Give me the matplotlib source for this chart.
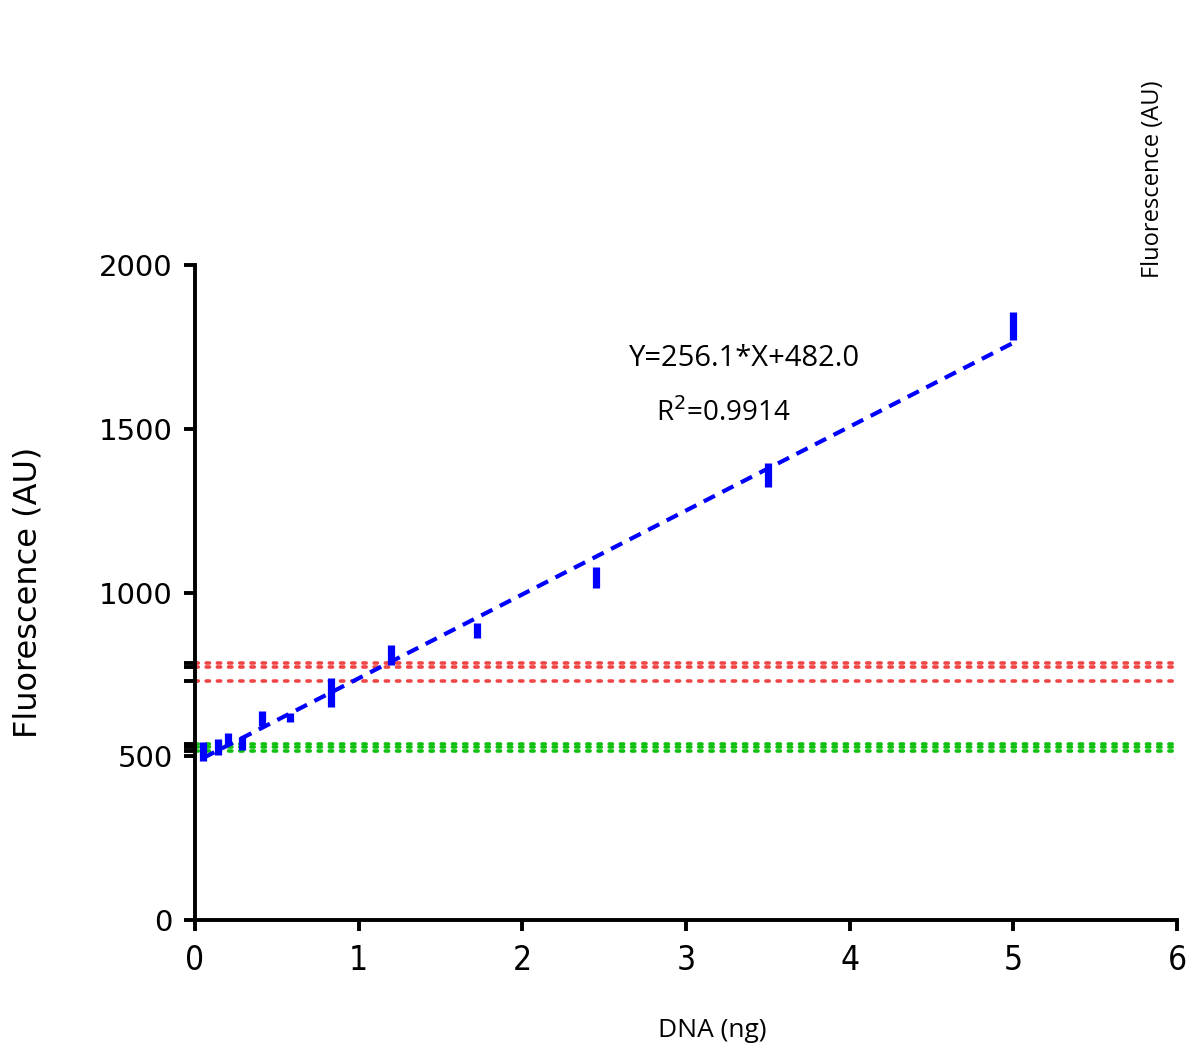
import numpy as np
import matplotlib
matplotlib.use("Agg")
import matplotlib.pyplot as plt

# DNA standard curve: mean fluorescence with error bars
dna_ng = [0.05, 0.14, 0.2, 0.29, 0.41, 0.58, 0.83, 1.2, 1.72, 2.45, 3.5, 5.0]
fluo_mean = [514, 528, 552, 539, 615, 618, 695, 810, 884, 1046, 1359, 1814]
fluo_err = [29, 25, 18, 20, 23, 14, 45, 30, 23, 32, 37, 43]

# linear fit reported on the plot
slope = 256.1
intercept = 482.0
r_squared = 0.9914

# threshold levels (dotted)
red_levels = [784, 772, 730]
green_levels = [537, 527, 515]

y_ticks = [0, 500, 1000, 1500, 2000]
x_ticks = [0, 1, 2, 3, 4, 5, 6]

plain = ["Open Sans", "DejaVu Sans"]

fig = plt.figure(figsize=(11.89, 10.5), dpi=100)
ax = fig.add_axes([0.164, 0.1238, 0.8259, 0.6238])

for lv in red_levels:
    ax.plot([0, 6], [lv, lv], color="#f04545", lw=2.6,
            dashes=(0.9, 2.2), dash_capstyle="round", zorder=2)
for lv in green_levels:
    ax.plot([0, 6], [lv, lv], color="#10c010", lw=2.6,
            dashes=(0.9, 2.2), dash_capstyle="round", zorder=2)

fit_x = np.array([dna_ng[0], dna_ng[-1]])
ax.plot(fit_x, slope * fit_x + intercept, color="#0000ff", lw=3.0,
        dashes=(3.0, 2.0), zorder=3)

ax.errorbar(dna_ng, fluo_mean, yerr=fluo_err, fmt="none",
            ecolor="#0000ff", elinewidth=5.2, capsize=0, zorder=4)

ax.set_xlim(0, 6)
ax.set_ylim(0, 2000)
ax.spines["top"].set_visible(False)
ax.spines["right"].set_visible(False)
ax.spines["left"].set_linewidth(2.8)
ax.spines["bottom"].set_linewidth(2.8)

ax.set_xticks(x_ticks)
ax.set_xticklabels([str(t) for t in x_ticks], family="DejaVu Sans",
                   fontstretch="condensed", fontsize=24)
ax.set_yticks(y_ticks)
ax.set_yticklabels([str(t) for t in y_ticks], family="DejaVu Sans", fontsize=21)
ax.set_yticks(red_levels + green_levels, minor=True)
ax.tick_params(axis="both", which="both", direction="out", length=8, width=2.8)
ax.tick_params(axis="x", pad=9)
ax.tick_params(axis="y", pad=8)

ax.set_ylabel("Fluorescence (AU)", family="DejaVu Sans", fontsize=23, labelpad=40)

ax.text(3.36, 1715, f"Y={slope:.1f}*X+{intercept:.1f}", family=plain,
        fontsize=21, ha="center", va="center")
ax.text(3.23, 1548, f"R$^2$={r_squared:.4f}", family=plain,
        fontsize=20, ha="center", va="center")

fig.text(0.599, 0.019, "DNA (ng)", family=plain, fontsize=19,
         ha="center", va="center")
fig.text(0.970, 0.829, "Fluorescence (AU)", family=plain, fontsize=17,
         rotation=90, ha="center", va="center")

fig.savefig("out.png", dpi=100)
